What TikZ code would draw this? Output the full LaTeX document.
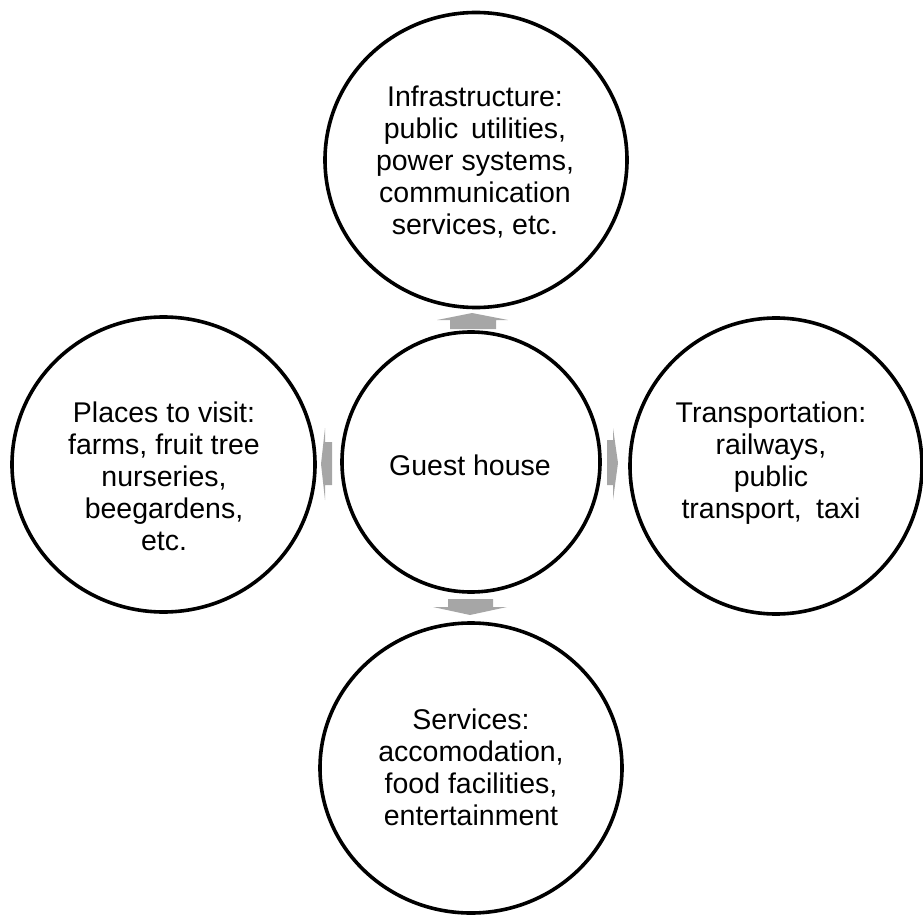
\documentclass[tikz,border=0pt]{standalone}
\usepackage{fontspec}
\setmainfont{Liberation Sans}
\usetikzlibrary{shapes.geometric}
\definecolor{arrowgray}{HTML}{A6A6A6}
\begin{document}
\begin{tikzpicture}[x=1pt,y=-1pt,
  ring/.style={ellipse, draw=black, line width=3.6pt, inner sep=0pt},
  txt/.style={align=center, font=\fontsize{28.5}{32}\selectfont, inner sep=0pt},
  blk/.style={fill=arrowgray, draw=none}]
\useasboundingbox (0,0) rectangle (923,917);
% circles
\node[ring, minimum width=302pt, minimum height=295pt] (top) at (476,160) {};
\node[ring, minimum width=303pt, minimum height=295pt] (left) at (163.5,464.5) {};
\node[ring, minimum width=258pt, minimum height=260pt] (mid) at (471,462) {};
\node[ring, minimum width=292pt, minimum height=296pt] (right) at (776,466) {};
\node[ring, minimum width=302pt, minimum height=290pt] (bottom) at (471,768) {};
% texts
\node[txt] (ttop) at (475,162) {Infrastructure:\\public\hspace{0.45em}utilities,\\power systems,\\communication\\services, etc.};
\node[txt] (tleft) at (164,476) {Places to visit:\\farms, fruit tree\\nurseries,\\beegardens,\\etc.};
\node[txt] (tmid) at (470,465) {Guest house};
\node[txt] (tright) at (771,463) {Transportation:\\railways,\\public\\transport,\hspace{0.5em}taxi};
\node[txt] (tbottom) at (471,767) {Services:\\accomodation,\\food facilities,\\entertainment};
% block arrows
\fill[blk] (450,329) -- (450,320) -- (437,320) -- (472,313) -- (508,320) -- (496,320) -- (496,329) -- cycle;
\fill[blk] (448,599) -- (448,607) -- (433,607) -- (470,615) -- (507,607) -- (493,607) -- (493,599) -- cycle;
\fill[blk] (332,442) -- (325,442) -- (325,428) -- (321,464) -- (325,500) -- (325,485) -- (332,485) -- cycle;
\fill[blk] (607,440) -- (613,440) -- (613,428) -- (618,463) -- (613,500) -- (613,485) -- (607,485) -- cycle;
\end{tikzpicture}
\end{document}
